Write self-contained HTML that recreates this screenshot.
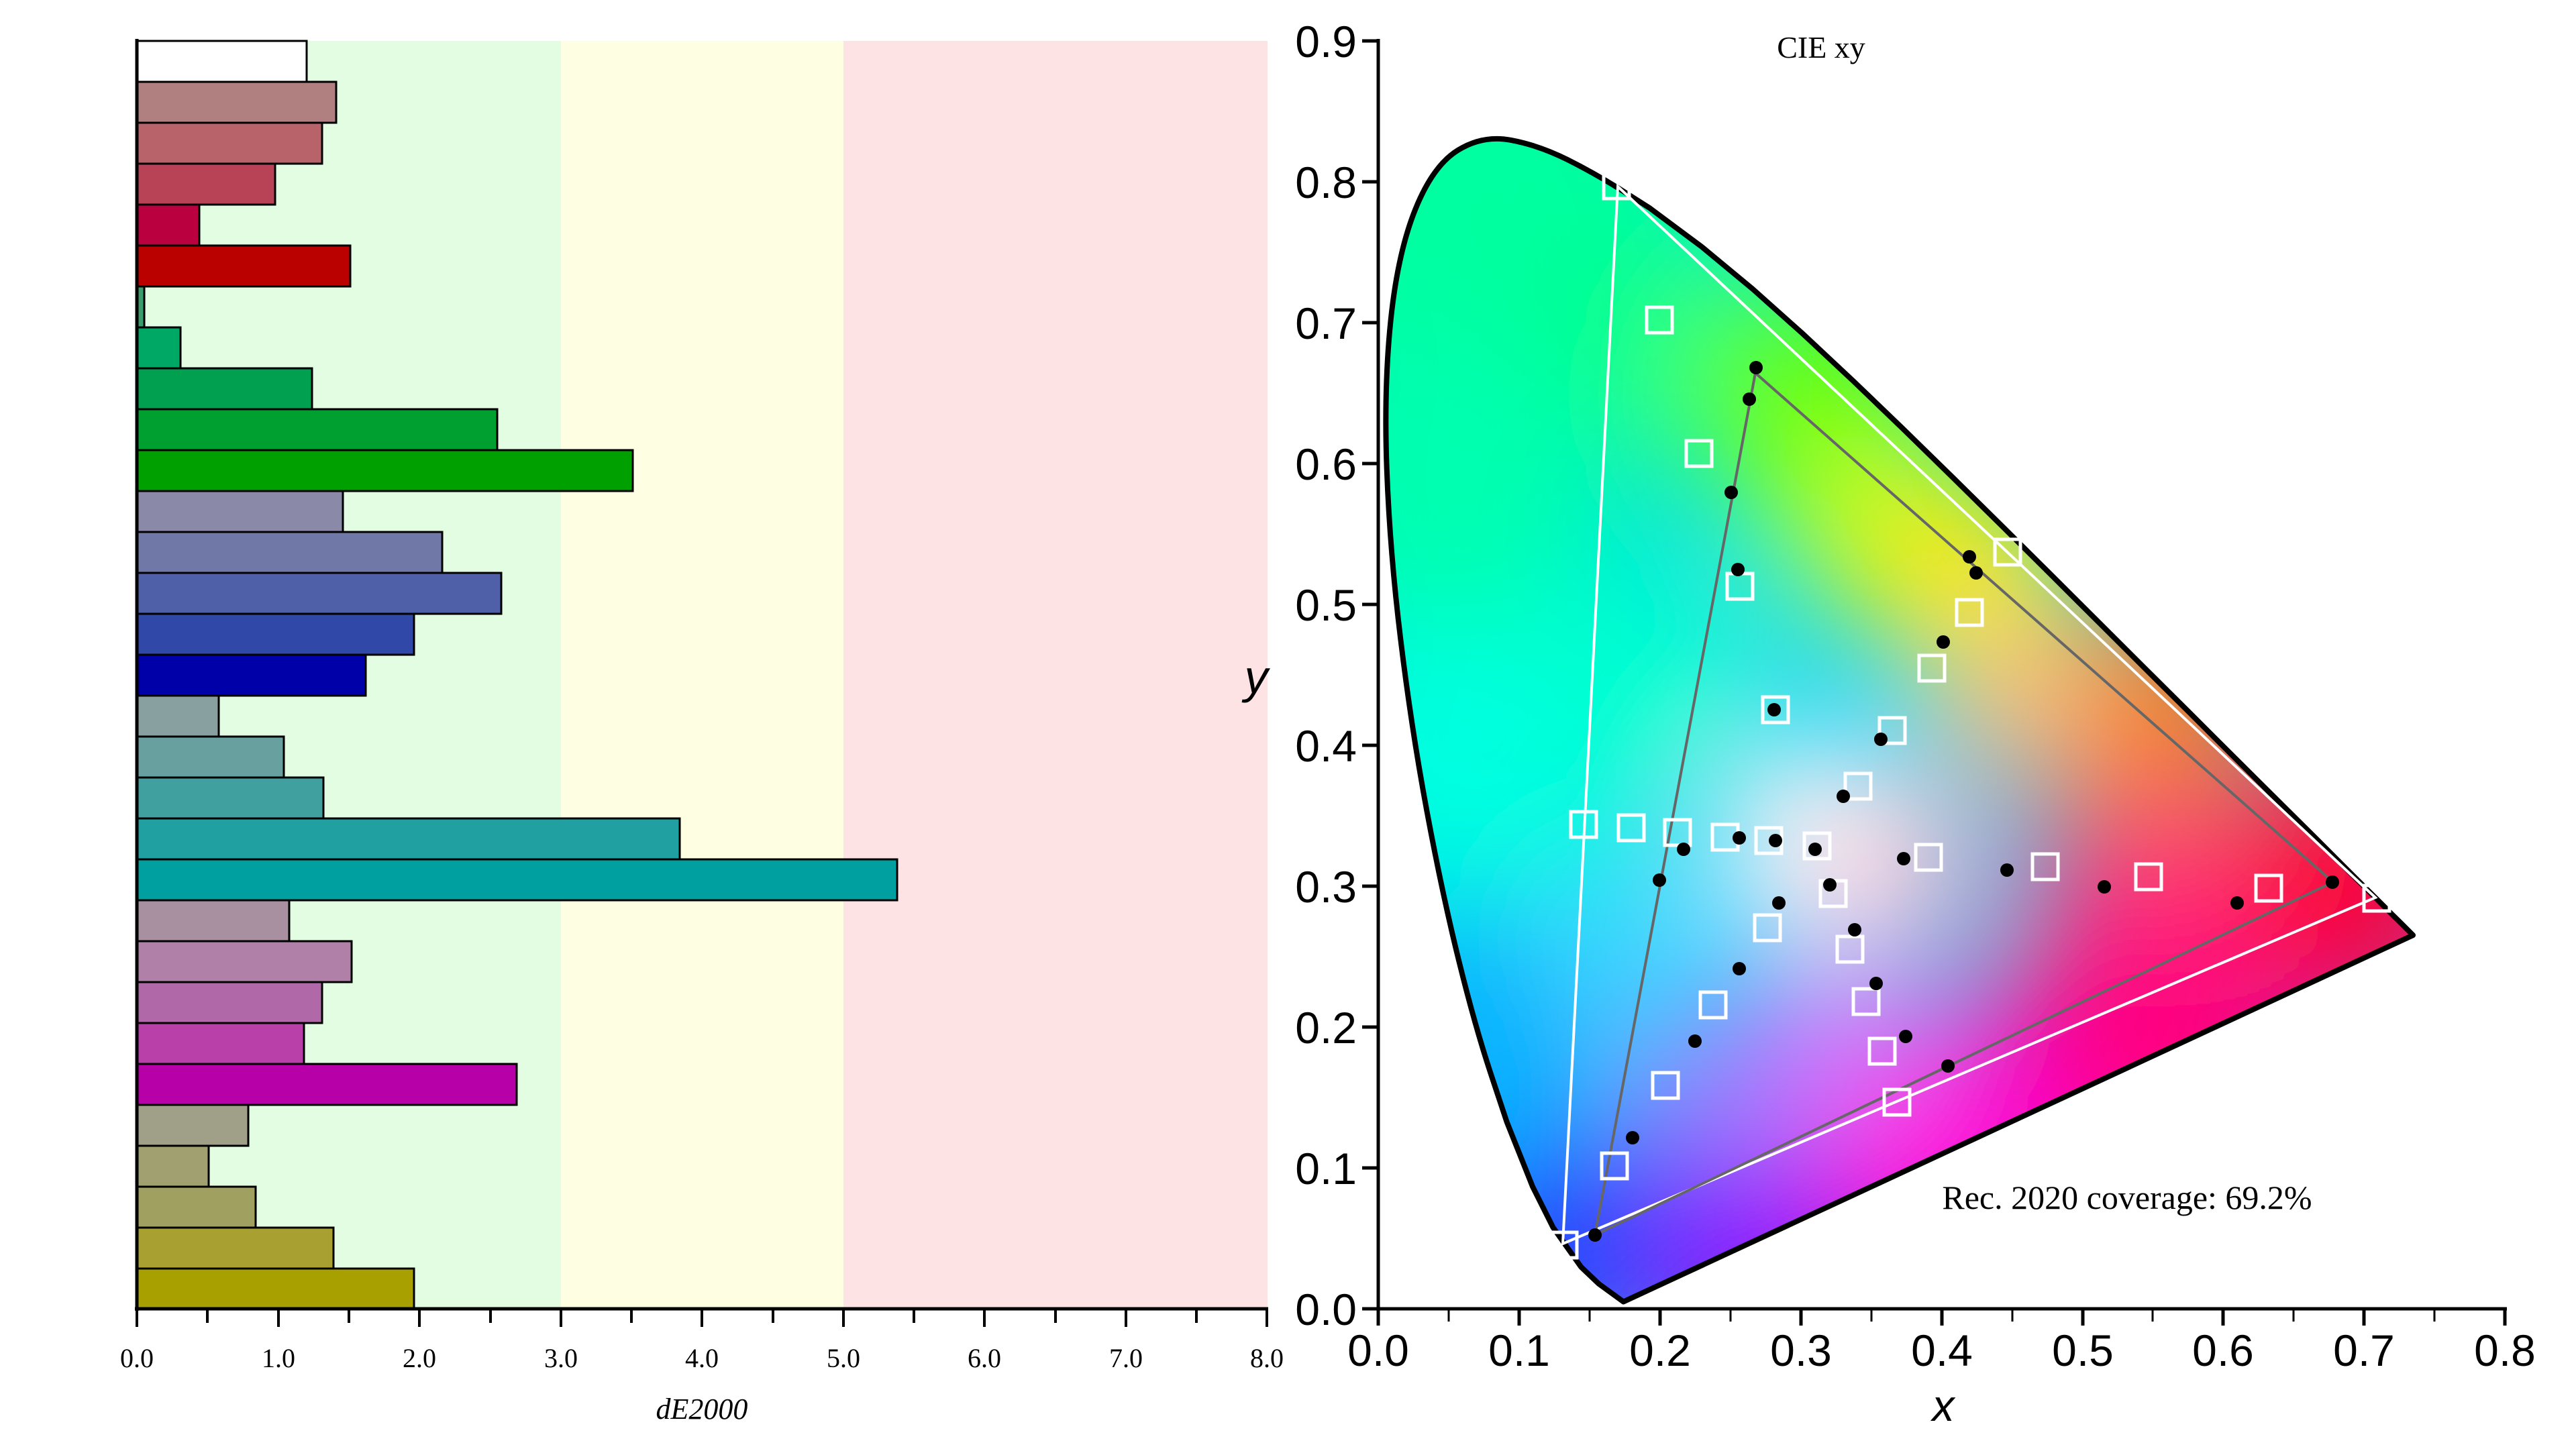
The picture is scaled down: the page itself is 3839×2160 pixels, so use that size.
<!DOCTYPE html>
<html><head><meta charset="utf-8"><style>html,body{margin:0;padding:0;background:#fff}svg{display:block}</style></head><body>
<svg width="3839" height="2160" viewBox="0 0 3839 2160" xmlns="http://www.w3.org/2000/svg">
<defs>
<clipPath id="loc"><path id="lp" d="M2419.4,1940.5 L2382.7,1913.8 L2356.3,1888.7 L2314.5,1829.7 L2284,1768.8 L2245.6,1672.5 L2221.9,1601.1 Q2198.2,1529.7 2173.8,1430.8 Q2149.3,1331.8 2126.3,1208.3 Q2103.3,1084.7 2087.3,952.8 Q2071.2,820.9 2066.7,698.8 Q2062.2,576.6 2072.7,476.5 Q2083.2,376.4 2109.5,311.5 Q2135.7,246.6 2172.9,223.8 Q2210,200.9 2251.9,208.9 Q2293.7,216.8 2336.2,238.1 Q2378.7,259.4 2418.8,284.9 L2458.9,310.4 L2535.9,367.7 L2611.9,430.7 L2687.1,497.9 L2762,568 L2837.1,640.2 L2911.9,713.4 L2986.2,786.7 L3059,859.1 L3129.7,929.6 L3197.5,997.2 L3261.3,1060.6 L3319.5,1118.7 L3370.1,1169.1 L3451.5,1249.9 L3505.5,1303.9 L3539.9,1338.1 L3563.2,1361.4 L3577.9,1375.9 L3596.1,1394.1 Z"/></clipPath>
<filter id="bl" x="-50%" y="-50%" width="200%" height="200%"><feGaussianBlur stdDeviation="90"/></filter>
<linearGradient id="base" x1="0" y1="0" x2="1" y2="1"><stop offset="0" stop-color="#00ffa0"/><stop offset="0.5" stop-color="#00d0ff"/><stop offset="1" stop-color="#ff0090"/></linearGradient>
</defs>
<rect x="204" y="61" width="632" height="1890" fill="#e3fde3"/>
<rect x="836" y="61" width="421" height="1890" fill="#fefee3"/>
<rect x="1257" y="61" width="632" height="1890" fill="#fee3e5"/>
<g stroke="#000" stroke-width="3">
<rect x="204" y="61" width="253" height="61" fill="#ffffff"/>
<rect x="204" y="122" width="297" height="61" fill="#b07f80"/>
<rect x="204" y="183" width="276" height="61" fill="#b8636a"/>
<rect x="204" y="244" width="206" height="61" fill="#b94356"/>
<rect x="204" y="305" width="93" height="61" fill="#bb003f"/>
<rect x="204" y="366" width="318" height="61" fill="#bb0000"/>
<rect x="204" y="427" width="11" height="61" fill="#3c9c6c"/>
<rect x="204" y="488" width="65" height="61" fill="#00a866"/>
<rect x="204" y="549" width="261" height="61" fill="#00a050"/>
<rect x="204" y="610" width="537" height="61" fill="#00a030"/>
<rect x="204" y="671" width="739" height="61" fill="#00a000"/>
<rect x="204" y="732" width="307" height="61" fill="#8a8aa8"/>
<rect x="204" y="793" width="455" height="61" fill="#7078a8"/>
<rect x="204" y="854" width="543" height="61" fill="#5060a8"/>
<rect x="204" y="915" width="413" height="61" fill="#3048a8"/>
<rect x="204" y="976" width="341" height="61" fill="#0000a8"/>
<rect x="204" y="1037" width="122" height="61" fill="#88a0a0"/>
<rect x="204" y="1098" width="219" height="61" fill="#68a0a0"/>
<rect x="204" y="1159" width="278" height="61" fill="#40a0a0"/>
<rect x="204" y="1220" width="809" height="61" fill="#20a0a0"/>
<rect x="204" y="1281" width="1133" height="61" fill="#00a0a0"/>
<rect x="204" y="1342" width="227" height="61" fill="#a890a0"/>
<rect x="204" y="1403" width="320" height="61" fill="#b080a8"/>
<rect x="204" y="1464" width="276" height="61" fill="#b068a8"/>
<rect x="204" y="1525" width="249" height="61" fill="#b840a8"/>
<rect x="204" y="1586" width="566" height="61" fill="#b800a8"/>
<rect x="204" y="1647" width="166" height="61" fill="#a0a088"/>
<rect x="204" y="1708" width="107" height="61" fill="#a0a070"/>
<rect x="204" y="1769" width="177" height="61" fill="#a0a060"/>
<rect x="204" y="1830" width="293" height="61" fill="#a8a030"/>
<rect x="204" y="1891" width="413" height="60" fill="#a8a000"/>
</g>
<g stroke="#000" stroke-width="5"><line x1="204" y1="58" x2="204" y2="1954"/><line x1="201" y1="1951" x2="1890" y2="1951"/></g>
<g stroke="#000" stroke-width="4">
<line x1="204" y1="1951" x2="204" y2="1978"/><line x1="309" y1="1951" x2="309" y2="1972"/><line x1="415" y1="1951" x2="415" y2="1978"/><line x1="520" y1="1951" x2="520" y2="1972"/><line x1="625" y1="1951" x2="625" y2="1978"/><line x1="731" y1="1951" x2="731" y2="1972"/><line x1="836" y1="1951" x2="836" y2="1978"/><line x1="941" y1="1951" x2="941" y2="1972"/><line x1="1046" y1="1951" x2="1046" y2="1978"/><line x1="1152" y1="1951" x2="1152" y2="1972"/><line x1="1257" y1="1951" x2="1257" y2="1978"/><line x1="1362" y1="1951" x2="1362" y2="1972"/><line x1="1467" y1="1951" x2="1467" y2="1978"/><line x1="1573" y1="1951" x2="1573" y2="1972"/><line x1="1678" y1="1951" x2="1678" y2="1978"/><line x1="1783" y1="1951" x2="1783" y2="1972"/><line x1="1888" y1="1951" x2="1888" y2="1978"/>
</g>
<g font-family="Liberation Serif, serif" font-size="40" text-anchor="middle">
<text x="204" y="2038">0.0</text><text x="415" y="2038">1.0</text><text x="625" y="2038">2.0</text><text x="836" y="2038">3.0</text><text x="1046" y="2038">4.0</text><text x="1257" y="2038">5.0</text><text x="1467" y="2038">6.0</text><text x="1678" y="2038">7.0</text><text x="1888" y="2038">8.0</text>
<text x="1046" y="2115" font-style="italic" font-size="44">dE2000</text>
</g>
<g clip-path="url(#loc)">
<rect x="2040" y="180" width="1580" height="1780" fill="url(#base)"/>
<g filter="url(#bl)">
<circle cx="2222" cy="320" r="280" fill="#00ffa0"/>
<circle cx="2440" cy="500" r="160" fill="#00ff90"/>
<circle cx="2684" cy="587" r="180" fill="#60ff00"/>
<circle cx="2800" cy="780" r="150" fill="#c0ff20"/>
<circle cx="2936" cy="860" r="160" fill="#ffe800"/>
<circle cx="3208" cy="1069" r="160" fill="#ff8000"/>
<circle cx="3000" cy="1050" r="120" fill="#ffc080"/>
<circle cx="3481" cy="1321" r="180" fill="#ff0030"/>
<circle cx="3200" cy="1320" r="150" fill="#ff4070"/>
<circle cx="3200" cy="1560" r="220" fill="#ff0080"/>
<circle cx="2894" cy="1720" r="200" fill="#ff00d8"/>
<circle cx="2750" cy="1560" r="120" fill="#e070ff"/>
<circle cx="2579" cy="1860" r="170" fill="#9000ff"/>
<circle cx="2560" cy="1620" r="120" fill="#a080ff"/>
<circle cx="2330" cy="1850" r="170" fill="#2040ff"/>
<circle cx="2240" cy="1531" r="200" fill="#00b0ff"/>
<circle cx="2400" cy="1400" r="120" fill="#40d8ff"/>
<circle cx="2200" cy="1111" r="240" fill="#00ffe0"/>
<circle cx="2440" cy="1000" r="160" fill="#00ffd0"/>
<circle cx="2159" cy="720" r="220" fill="#00ffb0"/>
<circle cx="2720" cy="1260" r="170" fill="#fff0f4"/>
<circle cx="2860" cy="1300" r="110" fill="#ffc0d0"/>
</g>
</g>
<use href="#lp" fill="none" stroke="#000" stroke-width="8" stroke-linejoin="round"/>
<g stroke="#000" stroke-width="5"><line x1="2054" y1="58" x2="2054" y2="1954"/><line x1="2051" y1="1951" x2="3736" y2="1951"/></g>
<g stroke="#000" stroke-width="5">
<line x1="2030" y1="61" x2="2054" y2="61"/><line x1="2030" y1="271" x2="2054" y2="271"/><line x1="2030" y1="481" x2="2054" y2="481"/><line x1="2030" y1="691" x2="2054" y2="691"/><line x1="2030" y1="901" x2="2054" y2="901"/><line x1="2030" y1="1111" x2="2054" y2="1111"/><line x1="2030" y1="1321" x2="2054" y2="1321"/><line x1="2030" y1="1531" x2="2054" y2="1531"/><line x1="2030" y1="1741" x2="2054" y2="1741"/><line x1="2030" y1="1951" x2="2054" y2="1951"/>
<line x1="2054" y1="1951" x2="2054" y2="1976"/><line x1="2264" y1="1951" x2="2264" y2="1976"/><line x1="2474" y1="1951" x2="2474" y2="1976"/><line x1="2684" y1="1951" x2="2684" y2="1976"/><line x1="2894" y1="1951" x2="2894" y2="1976"/><line x1="3104" y1="1951" x2="3104" y2="1976"/><line x1="3313" y1="1951" x2="3313" y2="1976"/><line x1="3523" y1="1951" x2="3523" y2="1976"/><line x1="3733" y1="1951" x2="3733" y2="1976"/>
</g>
<g stroke="#000" stroke-width="3">
<line x1="2159" y1="1951" x2="2159" y2="1970"/><line x1="2369" y1="1951" x2="2369" y2="1970"/><line x1="2579" y1="1951" x2="2579" y2="1970"/><line x1="2789" y1="1951" x2="2789" y2="1970"/><line x1="2999" y1="1951" x2="2999" y2="1970"/><line x1="3208" y1="1951" x2="3208" y2="1970"/><line x1="3418" y1="1951" x2="3418" y2="1970"/><line x1="3628" y1="1951" x2="3628" y2="1970"/>
</g>
<g font-family="Liberation Sans, sans-serif" font-size="66" text-anchor="end">
<text x="2022" y="85">0.9</text><text x="2022" y="295">0.8</text><text x="2022" y="505">0.7</text><text x="2022" y="715">0.6</text><text x="2022" y="925">0.5</text><text x="2022" y="1135">0.4</text><text x="2022" y="1345">0.3</text><text x="2022" y="1555">0.2</text><text x="2022" y="1765">0.1</text><text x="2022" y="1975">0.0</text>
</g>
<g font-family="Liberation Sans, sans-serif" font-size="66" text-anchor="middle">
<text x="2054" y="2036">0.0</text><text x="2264" y="2036">0.1</text><text x="2474" y="2036">0.2</text><text x="2684" y="2036">0.3</text><text x="2894" y="2036">0.4</text><text x="3104" y="2036">0.5</text><text x="3313" y="2036">0.6</text><text x="3523" y="2036">0.7</text><text x="3733" y="2036">0.8</text>
<text x="2896" y="2118" font-style="italic" font-size="66">x</text>
<text x="1872" y="1033" font-style="italic" font-size="70">y</text>
</g>
<text x="2714" y="86" font-family="Liberation Serif, serif" font-size="46" text-anchor="middle">CIE xy</text>
<text x="3170" y="1802" font-family="Liberation Serif, serif" font-size="50" text-anchor="middle">Rec. 2020 coverage: 69.2%</text>
<polygon points="3540,1338 2411,278 2329,1854" fill="none" stroke="#fff" stroke-width="4"/>
<polygon points="3477,1315 2616,556 2377,1841" fill="none" stroke="#666" stroke-width="4"/>
<g fill="none" stroke="#fff" stroke-width="5">
<rect x="2390" y="258" width="38" height="38"/><rect x="2454" y="458" width="38" height="38"/><rect x="2513" y="657" width="38" height="38"/><rect x="2574" y="855" width="38" height="38"/><rect x="2627" y="1039" width="38" height="38"/>
<rect x="2341" y="1210" width="38" height="38"/><rect x="2412" y="1215" width="38" height="38"/><rect x="2481" y="1222" width="38" height="38"/><rect x="2552" y="1229" width="38" height="38"/><rect x="2617" y="1234" width="38" height="38"/><rect x="2689" y="1242" width="38" height="38"/><rect x="2855" y="1259" width="38" height="38"/><rect x="3029" y="1273" width="38" height="38"/><rect x="3183" y="1288" width="38" height="38"/><rect x="3362" y="1305" width="38" height="38"/><rect x="3523" y="1320" width="38" height="38"/>
<rect x="2801" y="1070" width="38" height="38"/><rect x="2750" y="1153" width="38" height="38"/><rect x="2860" y="977" width="38" height="38"/><rect x="2916" y="894" width="38" height="38"/><rect x="2973" y="804" width="38" height="38"/>
<rect x="2713" y="1313" width="38" height="38"/><rect x="2615" y="1364" width="38" height="38"/><rect x="2738" y="1396" width="38" height="38"/><rect x="2762" y="1474" width="38" height="38"/><rect x="2786" y="1548" width="38" height="38"/><rect x="2808" y="1624" width="38" height="38"/>
<rect x="2534" y="1479" width="38" height="38"/><rect x="2463" y="1599" width="38" height="38"/><rect x="2387" y="1719" width="38" height="38"/><rect x="2312" y="1837" width="38" height="38"/>
</g>
<g fill="#000">
<circle cx="2617" cy="548" r="10"/><circle cx="2607" cy="595" r="10"/><circle cx="2580" cy="734" r="10"/><circle cx="2590" cy="849" r="10"/><circle cx="2644" cy="1058" r="10"/><circle cx="2803" cy="1102" r="10"/><circle cx="2747" cy="1187" r="10"/><circle cx="2896" cy="957" r="10"/><circle cx="2935" cy="830" r="10"/><circle cx="2945" cy="854" r="10"/>
<circle cx="2509" cy="1266" r="10"/><circle cx="2592" cy="1249" r="10"/><circle cx="2646" cy="1253" r="10"/><circle cx="2705" cy="1266" r="10"/><circle cx="2837" cy="1280" r="10"/><circle cx="2991" cy="1297" r="10"/><circle cx="3136" cy="1322" r="10"/><circle cx="3334" cy="1346" r="10"/><circle cx="3476" cy="1315" r="10"/>
<circle cx="2473" cy="1312" r="10"/><circle cx="2651" cy="1346" r="10"/><circle cx="2727" cy="1319" r="10"/><circle cx="2764" cy="1386" r="10"/><circle cx="2796" cy="1466" r="10"/><circle cx="2840" cy="1545" r="10"/><circle cx="2903" cy="1589" r="10"/>
<circle cx="2592" cy="1444" r="10"/><circle cx="2526" cy="1552" r="10"/><circle cx="2433" cy="1696" r="10"/><circle cx="2377" cy="1841" r="10"/>
</g>
</svg>
</body></html>
